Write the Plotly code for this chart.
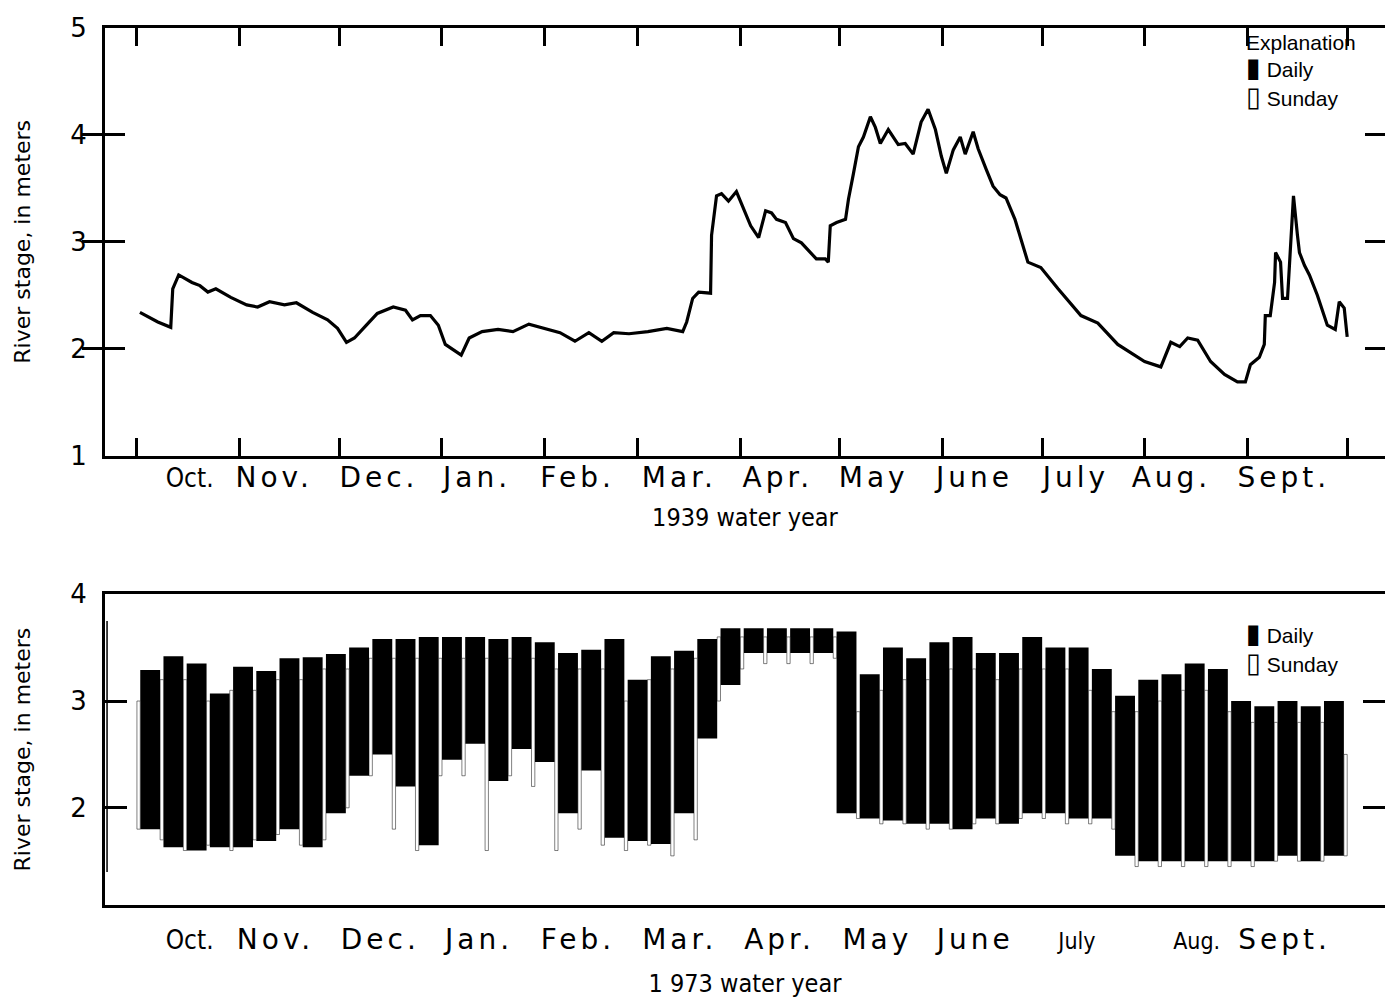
import plotly.graph_objects as go

# ---------------- data ----------------
# 1939 water year: river stage (m), x = day of water year (0 = Oct 1)
days_1939 = [0.9, 3.9, 6.3, 10.2, 10.8, 12.6, 16.6, 19.0, 21.4, 23.8, 28.3, 33.1, 36.4, 40.0, 44.5,
             48.1, 53.0, 57.5, 60.5, 63.2, 65.6, 69.2, 72.5, 77.3, 81.0, 83.1, 85.5, 88.5, 90.9,
             93.0, 95.4, 97.8, 100.2, 104.1, 108.9, 113.4, 118.2, 122.8, 127.6, 132.1, 136.3,
             140.2, 143.8, 148.4, 154.1, 159.8, 164.6, 165.8, 167.6, 169.4, 173.0, 173.3, 174.8,
             176.3, 178.4, 180.8, 183.0, 185.1, 187.5, 189.6, 191.4, 192.9, 195.6, 198.0, 200.4,
             203.1, 204.9, 207.6, 208.5, 209.1, 211.0, 213.7, 214.6, 216.1, 217.6, 219.1, 221.2,
             222.7, 224.2, 226.6, 229.6, 231.7, 234.1, 236.5, 238.6, 240.8, 242.6, 244.1, 246.2,
             248.3, 249.8, 252.2, 253.7, 256.1, 258.2, 260.3, 262.1, 264.8, 268.7, 272.6, 277.8,
             284.7, 289.8, 295.8, 303.9, 308.8, 310.0, 311.8, 314.5, 316.9, 319.9, 323.8, 328.0,
             331.9, 334.3, 335.8, 338.5, 340.0, 340.3, 341.8, 343.1, 343.4, 344.9, 345.5, 347.0,
             347.9, 348.8, 350.0, 350.6, 352.1, 353.6, 356.0, 359.0, 361.4, 362.6, 364.1, 365.0]
stage_1939 = [2.34, 2.29, 2.25, 2.20, 2.56, 2.69, 2.62, 2.59, 2.53, 2.56, 2.48, 2.41, 2.39, 2.44, 2.41,
              2.43, 2.34, 2.27, 2.19, 2.06, 2.10, 2.22, 2.33, 2.39, 2.36, 2.27, 2.31, 2.31, 2.22,
              2.04, 1.99, 1.94, 2.10, 2.16, 2.18, 2.16, 2.23, 2.19, 2.15, 2.07, 2.15,
              2.07, 2.15, 2.14, 2.16, 2.19, 2.16, 2.25, 2.47, 2.53, 2.52, 3.06, 3.43,
              3.45, 3.38, 3.47, 3.31, 3.15, 3.04, 3.29, 3.27, 3.21, 3.18, 3.03, 2.99,
              2.90, 2.84, 2.84, 2.81, 3.15, 3.18, 3.21, 3.40, 3.64, 3.89, 3.98, 4.17,
              4.07, 3.92, 4.05, 3.91, 3.92, 3.82, 4.12, 4.24, 4.05, 3.80, 3.64, 3.86,
              3.98, 3.82, 4.03, 3.87, 3.68, 3.52, 3.44, 3.41, 3.21, 2.81, 2.76, 2.56,
              2.31, 2.24, 2.04, 1.88, 1.83, 1.93, 2.06, 2.02, 2.10, 2.08, 1.88, 1.76,
              1.69, 1.69, 1.85, 1.92, 2.04, 2.31, 2.31, 2.62, 2.90, 2.81, 2.47, 2.47,
              2.92, 3.43, 3.06, 2.90, 2.78, 2.69, 2.50, 2.22, 2.18, 2.44, 2.38, 2.11]

# 1973 water year (Oct 1, 1972 was a Sunday): weekly blocks
# weekday (Mon-Sat) daily range of stage, m
weekday_hi_1973 = [3.29, 3.42, 3.35, 3.07, 3.32, 3.28, 3.40, 3.41, 3.44, 3.50, 3.58, 3.58, 3.60,
                   3.60, 3.60, 3.58, 3.60, 3.55, 3.45, 3.48, 3.58, 3.20, 3.42, 3.47, 3.58, 3.68,
                   3.68, 3.68, 3.68, 3.68, 3.65, 3.25, 3.50, 3.40, 3.55, 3.60, 3.45, 3.45, 3.60,
                   3.50, 3.50, 3.30, 3.05, 3.20, 3.25, 3.35, 3.30, 3.00, 2.95, 3.00, 2.95, 3.00]
weekday_lo_1973 = [1.80, 1.63, 1.60, 1.63, 1.63, 1.69, 1.80, 1.63, 1.95, 2.30, 2.50, 2.20, 1.65,
                   2.45, 2.60, 2.25, 2.55, 2.43, 1.95, 2.35, 1.72, 1.69, 1.66, 1.95, 2.65, 3.15,
                   3.45, 3.45, 3.45, 3.45, 1.95, 1.90, 1.88, 1.85, 1.85, 1.80, 1.90, 1.85, 1.95,
                   1.95, 1.90, 1.90, 1.55, 1.50, 1.50, 1.50, 1.50, 1.50, 1.50, 1.55, 1.50, 1.55]
# Sunday range of stage, m
sunday_hi_1973 = [3.00, 3.20, 3.20, 3.00, 3.10, 3.10, 3.20, 3.20, 3.30, 3.30, 3.40, 3.40, 3.40,
                  3.40, 3.40, 3.40, 3.40, 3.40, 3.30, 3.30, 3.30, 3.00, 3.20, 3.30, 3.40, 3.60,
                  3.60, 3.60, 3.60, 3.60, 3.60, 2.90, 3.10, 3.20, 3.20, 3.30, 3.30, 3.20, 3.30,
                  3.30, 3.30, 3.10, 2.90, 2.90, 3.00, 3.10, 3.10, 2.90, 2.80, 2.80, 2.80, 2.80, 2.50]
sunday_lo_1973 = [1.80, 1.70, 1.60, 1.65, 1.60, 1.70, 1.75, 1.65, 1.70, 2.00, 2.30, 1.80, 1.60,
                  2.30, 2.30, 1.60, 2.30, 2.20, 1.60, 1.80, 1.65, 1.60, 1.65, 1.55, 1.70, 3.00,
                  3.30, 3.35, 3.35, 3.35, 3.40, 1.90, 1.85, 1.85, 1.80, 1.80, 1.85, 1.85, 1.90,
                  1.90, 1.85, 1.85, 1.80, 1.45, 1.45, 1.45, 1.45, 1.45, 1.45, 1.50, 1.50, 1.50, 1.55]

# calendar of the water year
month_lengths = [31, 30, 31, 31, 28, 31, 30, 31, 30, 31, 31, 30]
month_starts = [0]
for n in month_lengths:
    month_starts.append(month_starts[-1] + n)

months_top = ["Oct.", "Nov.", "Dec.", "Jan.", "Feb.", "Mar.", "Apr.", "May", "June", "July", "Aug.", "Sept."]
months_bottom = ["Oct.", "Nov.", "Dec.", "Jan.", "Feb.", "Mar.", "Apr.", "May", "June", "July", "Aug.", "Sept."]

# ---------------- layout constants ----------------
label_pos_top = [15.9, 41.4, 73.0, 102.6, 132.9, 163.6, 193.3, 222.2, 252.6, 283.2, 312.0, 345.9]
label_pos_bottom = [15.9, 41.8, 73.4, 103.2, 133.0, 163.7, 193.8, 223.3, 252.8, 283.5, 319.6, 346.1]
XR = [-9.63, 376.4]

WIDE = "font-family:'DejaVu Sans';letter-spacing:4px"
NARROW = "font-family:'DejaVu Sans Condensed','Liberation Sans Narrow','Open Sans',sans-serif;font-stretch:condensed;letter-spacing:0px"


def wide(t):
    return f'<span style="{WIDE}">{t}</span>'


def narrow(t, size=None):
    s = NARROW + (f";font-size:{size}px" if size else "")
    return f'<span style="{s}">{t}</span>'


ticktext_top = [narrow(m, 26) if m == "Oct." else wide(m) for m in months_top]
ticktext_bottom = []
for m in months_bottom:
    if m == "Oct.":
        ticktext_bottom.append(narrow(m, 26))
    elif m in ("July", "Aug."):
        ticktext_bottom.append(narrow(m, 23))
    else:
        ticktext_bottom.append(wide(m))

sundays = [7 * k for k in range(len(sunday_hi_1973))]

fig = go.Figure()

fig.add_trace(go.Scatter(x=days_1939, y=stage_1939, mode="lines",
                         line=dict(color="black", width=3.2), name="Daily",
                         xaxis="x", yaxis="y", showlegend=False))
# carrier for the month-name axis of the 1939 panel
fig.add_trace(go.Scatter(x=[None], y=[None], mode="markers", xaxis="x3", yaxis="y",
                         showlegend=False, hoverinfo="skip"))

fig.add_trace(go.Bar(x=[s + 4 for s in sundays[:len(weekday_hi_1973)]],
                     base=weekday_lo_1973,
                     y=[h - l for h, l in zip(weekday_hi_1973, weekday_lo_1973)],
                     width=6, marker=dict(color="black", line=dict(width=0)),
                     name="Daily", xaxis="x2", yaxis="y2", showlegend=False))
fig.add_trace(go.Bar(x=[s + 0.5 for s in sundays],
                     base=sunday_lo_1973,
                     y=[h - l for h, l in zip(sunday_hi_1973, sunday_lo_1973)],
                     width=1, marker=dict(color="white", line=dict(color="black", width=0.5)),
                     name="Sunday", xaxis="x2", yaxis="y2", showlegend=False))

frame = dict(showline=True, linewidth=3, linecolor="black", showgrid=False, zeroline=False)
tickfont = dict(family="DejaVu Sans", size=26, color="black")
FONT = "DejaVu Sans"
COND = "DejaVu Sans Condensed, Liberation Sans Narrow, sans-serif"

fig.update_layout(
    width=1385, height=990,
    margin=dict(l=97, r=5, t=12, b=92),
    paper_bgcolor="white", plot_bgcolor="white",
    barmode="overlay",
    font=dict(family=FONT, color="black"),
    xaxis=dict(domain=[0, 1], anchor="y", range=XR, tickvals=month_starts,
               ticks="inside", ticklen=18, tickwidth=3, tickcolor="black",
               showticklabels=False, mirror="allticks", **frame),
    xaxis3=dict(overlaying="x", anchor="y", side="bottom", range=XR, tickvals=label_pos_top,
                ticktext=ticktext_top, ticks="", showline=False, showgrid=False,
                zeroline=False, tickfont=dict(family=FONT, size=28, color="black"),
                ticklabelstandoff=2,
                title=dict(text="1939 water year", standoff=15,
                           font=dict(family=COND, size=25))),
    yaxis=dict(domain=[0.5124, 1], anchor="x", range=[1, 5], tickvals=[1, 2, 3, 4, 5],
               ticks="inside", ticklen=20, tickwidth=3, tickcolor="black",
               mirror="allticks", tickfont=tickfont, ticklabelstandoff=10,
               title=dict(text="River stage, in meters", standoff=34,
                          font=dict(family=FONT, size=22)), **frame),
    xaxis2=dict(domain=[0, 1], anchor="y2", range=XR, tickvals=label_pos_bottom,
                ticktext=ticktext_bottom, ticks="", mirror=True,
                tickfont=dict(family=FONT, size=28, color="black"), ticklabelstandoff=7,
                title=dict(text="1 973 water year", standoff=20,
                           font=dict(family=COND, size=25)),
                **frame),
    yaxis2=dict(domain=[0, 0.3544], anchor="x2", range=[1.09, 4.0], tickvals=[2, 3, 4],
                ticks="inside", ticklen=22, tickwidth=3, tickcolor="black",
                mirror="allticks", tickfont=tickfont, ticklabelstandoff=10,
                title=dict(text="River stage, in meters", standoff=34,
                           font=dict(family=FONT, size=22)), **frame),
)

legend_font = dict(family="Liberation Sans, Arial, sans-serif", size=21, color="black")
glyph = "font-family:'DejaVu Sans';font-size:27px"
ann = [
    dict(text="Explanation", x=0.890, y=0.983),
    dict(text=f'<span style="{glyph}">▮</span> Daily', x=0.890, y=0.955),
    dict(text=f'<span style="{glyph}">▯</span> Sunday', x=0.890, y=0.922),
    dict(text=f'<span style="{glyph}">▮</span> Daily', x=0.890, y=0.310),
    dict(text=f'<span style="{glyph}">▯</span> Sunday', x=0.890, y=0.277),
]
for a in ann:
    fig.add_annotation(xref="paper", yref="paper", xanchor="left", yanchor="middle",
                       showarrow=False, font=legend_font, **a)
# bottom-panel "1" tick label sits below the frame
fig.add_annotation(xref="paper", yref="y2", x=0, y=1, text="1", showarrow=False,
                   xanchor="right", yanchor="middle", xshift=-12, font=tickfont)
# thin inner edge of the scanned 1973 record
fig.add_shape(type="line", xref="paper", yref="y2", x0=0.0016, x1=0.0016, y0=1.4, y1=3.75,
              line=dict(color="black", width=1.5))

fig.write_html("out.html")
